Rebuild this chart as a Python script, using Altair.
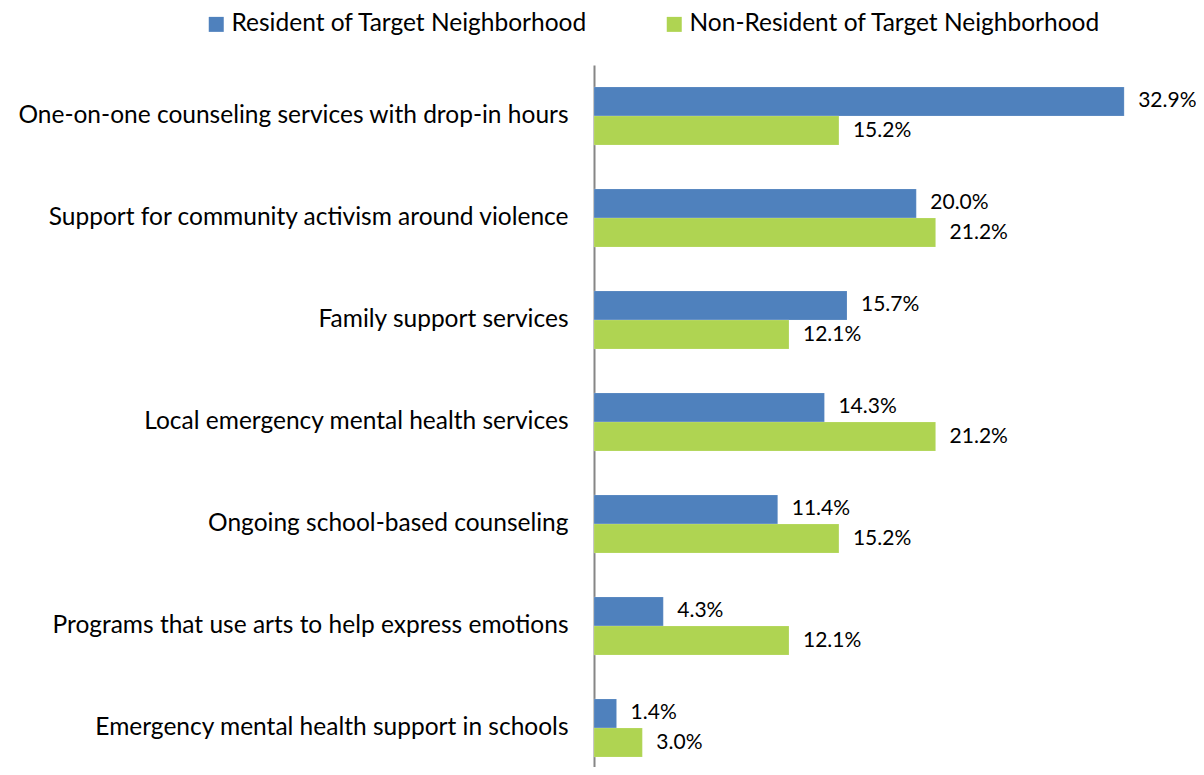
import altair as alt
import pandas as pd

categories = [
    "One-on-one counseling services with drop-in hours",
    "Support for community activism around violence",
    "Family support services",
    "Local emergency mental health services",
    "Ongoing school-based counseling",
    "Programs that use arts to help express emotions",
    "Emergency mental health support in schools",
]
series = ["Resident of Target Neighborhood", "Non-Resident of Target Neighborhood"]
resident = [32.9, 20.0, 15.7, 14.3, 11.4, 4.3, 1.4]
non_resident = [15.2, 21.2, 12.1, 21.2, 15.2, 12.1, 3.0]

rows = []
for c, r, n in zip(categories, resident, non_resident):
    rows.append({"cat": c, "series": series[0], "value": r, "label": f"{r:.1f}%"})
    rows.append({"cat": c, "series": series[1], "value": n, "label": f"{n:.1f}%"})
df = pd.DataFrame(rows)

FONT = "Lato"

y = alt.Y("cat:N", sort=categories, title=None,
          scale=alt.Scale(paddingInner=0.431, paddingOuter=0.2155, range=[0, 714]),
          axis=alt.Axis(labelFont=FONT, labelFontSize=24.5, labelColor="#000000",
                        ticks=False, labelPadding=26, domainColor="#868686",
                        domainWidth=2, labelLimit=700))
yoff = alt.YOffset("series:N", sort=series, scale=alt.Scale(paddingInner=0, paddingOuter=0))
x = alt.X("value:Q", scale=alt.Scale(domain=[0, 35], nice=False), axis=None)

color = alt.Color("series:N", sort=series,
                  scale=alt.Scale(domain=series, range=["#4F81BD", "#AFD452"]),
                  legend=alt.Legend(title=None, orient="none", legendX=-390, legendY=-53,
                                    direction="horizontal", symbolType="square",
                                    symbolSize=225, symbolStrokeWidth=0,
                                    labelFont=FONT, labelFontSize=24.5, labelColor="#000000",
                                    labelOffset=3, columnPadding=74, labelLimit=600))

bars = alt.Chart(df).mark_bar(stroke="#ffffff", strokeOpacity=0.3, strokeWidth=0.5).encode(
    x=x, y=y, yOffset=yoff, color=color)

text = alt.Chart(df).mark_text(align="left", baseline="middle", dx=14, font=FONT,
                               fontSize=21, color="#000000").encode(
    x=x, y=y, yOffset=yoff, text="label:N")

chart = (bars + text).properties(
    width=564, height=702,
    padding={"left": 586, "top": 57, "right": 38, "bottom": 0},
    autosize=alt.AutoSizeParams(type="none"),
).configure_view(stroke=None)

chart.save("out.html", embed_options={"renderer": "svg", "actions": False})
